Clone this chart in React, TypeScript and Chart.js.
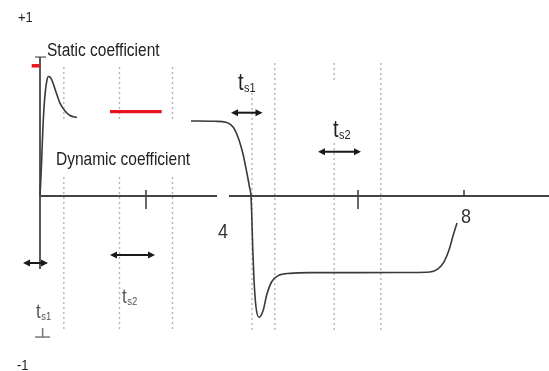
import React, { useEffect, useRef } from "react";
import { Chart, registerables } from "chart.js";
Chart.register(...registerables);

// ---- data (x in time units, y in coefficient units) ----
const X_MIN = -0.7547;
const X_MAX = 9.6038;
const Y_MIN = -1.0;
const Y_MAX = 1.12;

const curveX1 = [0, 0.028, 0.051, 0.075, 0.104, 0.132, 0.16, 0.198, 0.245, 0.302, 0.377, 0.472, 0.566, 0.698];
const curveY1 = [0, 0.177, 0.36, 0.503, 0.606, 0.663, 0.683, 0.677, 0.646, 0.594, 0.531, 0.486, 0.46, 0.449];
const curveX2 = [2.849, 3.302, 3.509, 3.604, 3.679, 3.755, 3.83, 3.9, 3.953, 3.981, 3.994, 4.013, 4.038, 4.075, 4.132, 4.213, 4.277, 4.372, 4.496, 4.717, 5.094, 6.038, 6.981, 7.358, 7.509, 7.623, 7.717, 7.792, 7.868];
const curveY2 = [0.429, 0.427, 0.421, 0.406, 0.377, 0.32, 0.24, 0.137, 0.051, 0, -0.097, -0.291, -0.48, -0.633, -0.693, -0.651, -0.566, -0.49, -0.455, -0.442, -0.438, -0.438, -0.437, -0.434, -0.417, -0.377, -0.309, -0.229, -0.154];

const staticMarkX = [-0.157, 0];
const staticMarkY = 0.744;
const dynamicMarkX = [1.321, 2.296];
const dynamicMarkY = 0.482;

const yAxisTop = 0.794;
const yAxisBottom = -0.417;
const staticCapX = [-0.094, 0.113];
const lowerCapX = [-0.094, 0.189];
const lowerCapY = [-0.754, -0.806];
const xAxisSegStart = [0, 3.566];
const xAxisSegEnd = [3.34, X_MAX];
const tickValues = [2, 6, 8];
const tickTop = [0.034, 0.034, 0.034];
const tickBottom = [-0.074, -0.074, 0];

const dottedX = [0.45, 1.5, 2.5, 4.0, 4.43, 5.55, 6.43];
const dottedTop = [0.737, 0.737, 0.737, 0.76, 0.76, 0.76, 0.76];
const dottedBottom = -0.766;

const arrowStart = [-0.321, 1.321, 3.604, 5.245];
const arrowEnd = [0.151, 2.17, 4.198, 6.057];
const arrowY = [-0.383, -0.337, 0.476, 0.253];

const axisLabelText = ["4", "8"];
const axisLabelX = [3.453, 8.04];
const axisLabelY = [-0.24, -0.154];

const yLabelText = ["+1", "-1"];
const yLabelX = [-0.415, -0.434];
const yLabelY = [0.994, -0.994];

const noteText = ["Static coefficient", "Dynamic coefficient"];
const noteX = [0.132, 0.302];
const noteY = [0.8, 0.177];

const tsSub = ["s1", "s2", "s1", "s2"];
const tsX = [-0.075, 1.547, 3.736, 5.528];
const tsY = [-0.697, -0.611, 0.606, 0.337];

// masks (label backgrounds) in data units
const maskX0 = [0.321, 3.717, 5.528];
const maskX1 = [2.83, 4.094, 5.906];
const maskY0 = [0.44, 0.903, 0.646];
const maskY1 = [0.12, 0.594, 0.303];

const FONT = '"Liberation Sans", Arial, sans-serif';

const pts = (xs: number[], ys: number[]) => xs.map((x, i) => ({ x, y: ys[i] }));

export default function App() {
  const ref = useRef<HTMLCanvasElement | null>(null);

  useEffect(() => {
    const canvas = ref.current;
    if (!canvas) return;

    const lineDs = (data: any[], color: string, width: number, extra: any = {}) => ({
      data,
      borderColor: color,
      backgroundColor: color,
      borderWidth: width,
      pointRadius: 0,
      fill: false,
      tension: 0,
      ...extra,
    });

    const datasets: any[] = [];
    datasets.push(lineDs(pts(curveX1, curveY1), "#3a3a3a", 1.6, { cubicInterpolationMode: "monotone" }));
    datasets.push(lineDs(pts(curveX2, curveY2), "#3a3a3a", 1.6, { cubicInterpolationMode: "monotone" }));
    datasets.push(lineDs(pts(staticMarkX, [staticMarkY, staticMarkY]), "#e5161d", 3.5));
    datasets.push(lineDs(pts(dynamicMarkX, [dynamicMarkY, dynamicMarkY]), "#e5161d", 3.3));
    datasets.push(lineDs([{ x: 0, y: yAxisTop }, { x: 0, y: yAxisBottom }], "#5a5a5a", 2));
    datasets.push(lineDs(pts(staticCapX, [yAxisTop, yAxisTop]), "#777777", 1.5));
    datasets.push(lineDs(pts(lowerCapX, [lowerCapY[1], lowerCapY[1]]), "#777777", 1.5));
    datasets.push(lineDs([{ x: 0.05, y: lowerCapY[0] }, { x: 0.05, y: lowerCapY[1] }], "#777777", 1.5));
    xAxisSegStart.forEach((s, i) => {
      datasets.push(lineDs([{ x: s, y: 0 }, { x: xAxisSegEnd[i], y: 0 }], "#444444", 2.2));
    });
    tickValues.forEach((t, i) => {
      datasets.push(lineDs([{ x: t, y: tickTop[i] }, { x: t, y: tickBottom[i] }], "#444444", 1.6));
    });
    dottedX.forEach((d, i) => {
      datasets.push(
        lineDs([{ x: d, y: dottedTop[i] }, { x: d, y: dottedBottom }], "#b4b4b4", 1.4, { borderDash: [2, 3] })
      );
    });

    const overlay = {
      id: "overlay",
      afterDatasetsDraw(chart: any) {
        const ctx = chart.ctx as CanvasRenderingContext2D;
        const xs = chart.scales.x;
        const ys = chart.scales.y;
        const px = (v: number) => xs.getPixelForValue(v);
        const py = (v: number) => ys.getPixelForValue(v);

        // masks
        ctx.save();
        ctx.fillStyle = "#ffffff";
        maskX0.forEach((_, i) => {
          const x0 = px(maskX0[i]);
          const x1 = px(maskX1[i]);
          const y0 = py(maskY0[i]);
          const y1 = py(maskY1[i]);
          ctx.fillRect(x0, y0, x1 - x0, y1 - y0);
        });
        ctx.restore();

        const text = (s: string, x: number, y: number, size: number, color: string, align: CanvasTextAlign = "left") => {
          ctx.save();
          ctx.translate(x, y);
          ctx.scale(1, 1.15);
          ctx.font = `${size}px ${FONT}`;
          ctx.fillStyle = color;
          ctx.textAlign = align;
          ctx.textBaseline = "alphabetic";
          ctx.fillText(s, 0, 0);
          ctx.restore();
        };

        yLabelText.forEach((s, i) => text(s, px(yLabelX[i]), py(yLabelY[i]), 13, "#222222"));
        noteText.forEach((s, i) => text(s, px(noteX[i]), py(noteY[i]), 15.5, "#222222"));
        axisLabelText.forEach((s, i) => text(s, px(axisLabelX[i]), py(axisLabelY[i]), 18, "#333333", "center"));

        tsSub.forEach((sub, i) => {
          const big = i >= 2;
          const mainSize = big ? 20 : 17;
          const subSize = big ? 11 : 9.5;
          const color = big ? "#222222" : "#555555";
          const x = px(tsX[i]);
          const y = py(tsY[i]);
          ctx.save();
          ctx.font = `${mainSize}px ${FONT}`;
          const w = ctx.measureText("t").width;
          ctx.restore();
          text("t", x, y, mainSize, color);
          text(sub, x + w + 0.5, y + 2, subSize, color);
        });

        // arrows
        ctx.save();
        ctx.strokeStyle = "#1a1a1a";
        ctx.fillStyle = "#1a1a1a";
        ctx.lineWidth = 2;
        arrowStart.forEach((_, i) => {
          const x0 = px(arrowStart[i]);
          const x1 = px(arrowEnd[i]);
          const y = py(arrowY[i]);
          ctx.beginPath();
          ctx.moveTo(x0 + 4, y);
          ctx.lineTo(x1 - 4, y);
          ctx.stroke();
          ctx.beginPath();
          ctx.moveTo(x0, y);
          ctx.lineTo(x0 + 7, y - 3.5);
          ctx.lineTo(x0 + 7, y + 3.5);
          ctx.closePath();
          ctx.fill();
          ctx.beginPath();
          ctx.moveTo(x1, y);
          ctx.lineTo(x1 - 7, y - 3.5);
          ctx.lineTo(x1 - 7, y + 3.5);
          ctx.closePath();
          ctx.fill();
        });
        ctx.restore();
      },
    };

    const chart = new Chart(canvas, {
      type: "line",
      data: { datasets },
      options: {
        animation: false,
        responsive: false,
        devicePixelRatio: 1,
        events: [],
        layout: { padding: 0 },
        plugins: { legend: { display: false }, tooltip: { enabled: false }, title: { display: false } },
        scales: {
          x: { type: "linear", min: X_MIN, max: X_MAX, display: false },
          y: { type: "linear", min: Y_MIN, max: Y_MAX, display: false },
        },
      },
      plugins: [overlay],
    } as any);

    return () => chart.destroy();
  }, []);

  return (
    <div style={{ position: "fixed", left: 0, top: 0, width: 549, height: 371, background: "#ffffff" }}>
      <canvas ref={ref} width={549} height={371} style={{ display: "block", width: 549, height: 371 }} />
    </div>
  );
}
